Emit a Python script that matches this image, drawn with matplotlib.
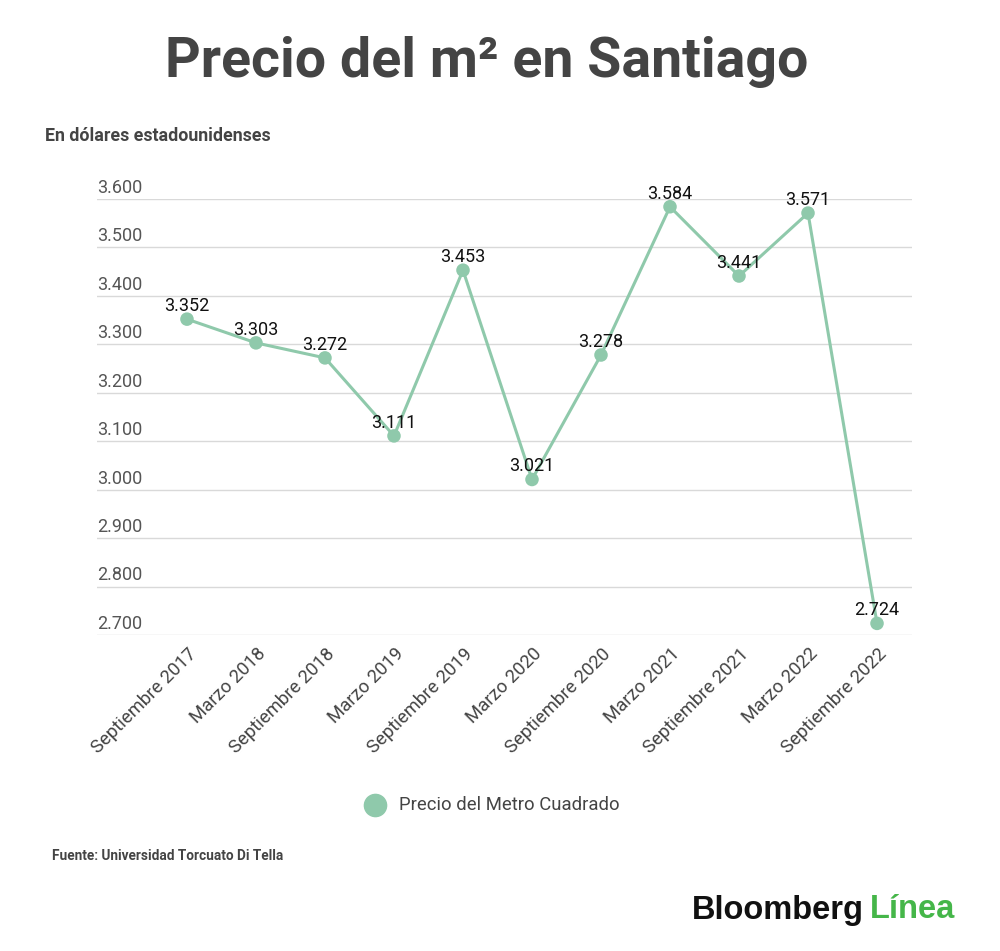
import matplotlib
matplotlib.use("Agg")
import matplotlib.pyplot as plt
import matplotlib.transforms as mtransforms

# === DATA ===
CATEGORIES = ["Septiembre 2017", "Marzo 2018", "Septiembre 2018", "Marzo 2019",
              "Septiembre 2019", "Marzo 2020", "Septiembre 2020", "Marzo 2021",
              "Septiembre 2021", "Marzo 2022", "Septiembre 2022"]
PRICES = [3352, 3303, 3272, 3111, 3453, 3021, 3278, 3584, 3441, 3571, 2724]
Y_TICKS = [2700, 2800, 2900, 3000, 3100, 3200, 3300, 3400, 3500, 3600]

# === STYLE ===
LINE_COLOR = "#8fc9ab"
TEXT_COLOR = "#444444"
GRID_COLOR = "#d9d9d9"
FONT = "Roboto"

plt.rcParams["font.family"] = [FONT, "DejaVu Sans"]


def fmt(v):
    # Spanish thousands separator
    return f"{v:,}".replace(",", ".")


fig = plt.figure(figsize=(10, 9.51), dpi=100)
ax = fig.add_axes([0.097, 1 - 635 / 951, 0.815, (635 - 199) / 951])

x = list(range(len(PRICES)))
ax.set_xlim(-1.304, 10.507)
ax.set_ylim(2700, 3600)

# gridlines with labels sitting on top of them
for v in Y_TICKS:
    ax.axhline(v, color=GRID_COLOR, linewidth=1, zorder=0)
    ax.annotate(fmt(v), xy=(0, v), xycoords=("axes fraction", "data"),
                xytext=(0, 1.5), textcoords="offset points", ha="left", va="bottom",
                fontsize=13, color="#555555")

ax.plot(x, PRICES, color=LINE_COLOR, linewidth=2.2, zorder=2, clip_on=False)
ax.scatter(x, PRICES, s=95, color=LINE_COLOR, zorder=3, clip_on=False, edgecolors="none")

for xi, v in zip(x, PRICES):
    ax.annotate(fmt(v), xy=(xi, v), xytext=(0, 3),
                textcoords="offset points", ha="center", va="bottom",
                fontsize=13, color="#111111", zorder=4)

for s in ax.spines.values():
    s.set_visible(False)
ax.set_yticks([])
ax.set_xticks(x)
ax.set_xticklabels(CATEGORIES, rotation=45, ha="right", rotation_mode="anchor",
                   fontsize=13.3, color=TEXT_COLOR)
ax.tick_params(axis="x", length=0, pad=7)
offset = mtransforms.ScaledTranslation(0.5 / 72, 0, fig.dpi_scale_trans)
for lbl in ax.get_xticklabels():
    lbl.set_transform(lbl.get_transform() + offset)

# title / subtitle
fig.text(0.487, 1 - 62 / 951, "Precio del m² en Santiago", ha="center", va="center",
         fontsize=40, fontweight="bold", color=TEXT_COLOR)
fig.text(0.045, 1 - 136 / 951, "En dólares estadounidenses", ha="left", va="center",
         fontsize=12.8, fontweight="bold", color=TEXT_COLOR)

# legend
fig.lines.append(plt.Line2D([0.375], [1 - 805 / 951], marker="o", markersize=16,
                            color=LINE_COLOR, linestyle="none", transform=fig.transFigure))
fig.text(0.399, 1 - 805 / 951, "Precio del Metro Cuadrado", ha="left", va="center",
         fontsize=13.3, color=TEXT_COLOR)

# source
fig.text(0.052, 1 - 856 / 951, "Fuente: Universidad Torcuato Di Tella", ha="left",
         va="center", fontsize=9.8, fontweight="bold", color=TEXT_COLOR)

# logo
logo_font = ["Liberation Sans", "DejaVu Sans"]
t1 = fig.text(0.955, 1 - 910 / 951, "Línea", ha="right", va="center", fontsize=23.5,
              fontweight="bold", color="#45b649", family=logo_font)
fig.canvas.draw()
bb = t1.get_window_extent()
fig.text(bb.x0 - 6, 1 - 910 / 951, "Bloomberg", ha="right", va="center", fontsize=23.5,
         fontweight="bold", color="#111111", family=logo_font,
         transform=mtransforms.blended_transform_factory(
             mtransforms.IdentityTransform(), fig.transFigure))

fig.savefig("out.png", dpi=100, facecolor="white")
